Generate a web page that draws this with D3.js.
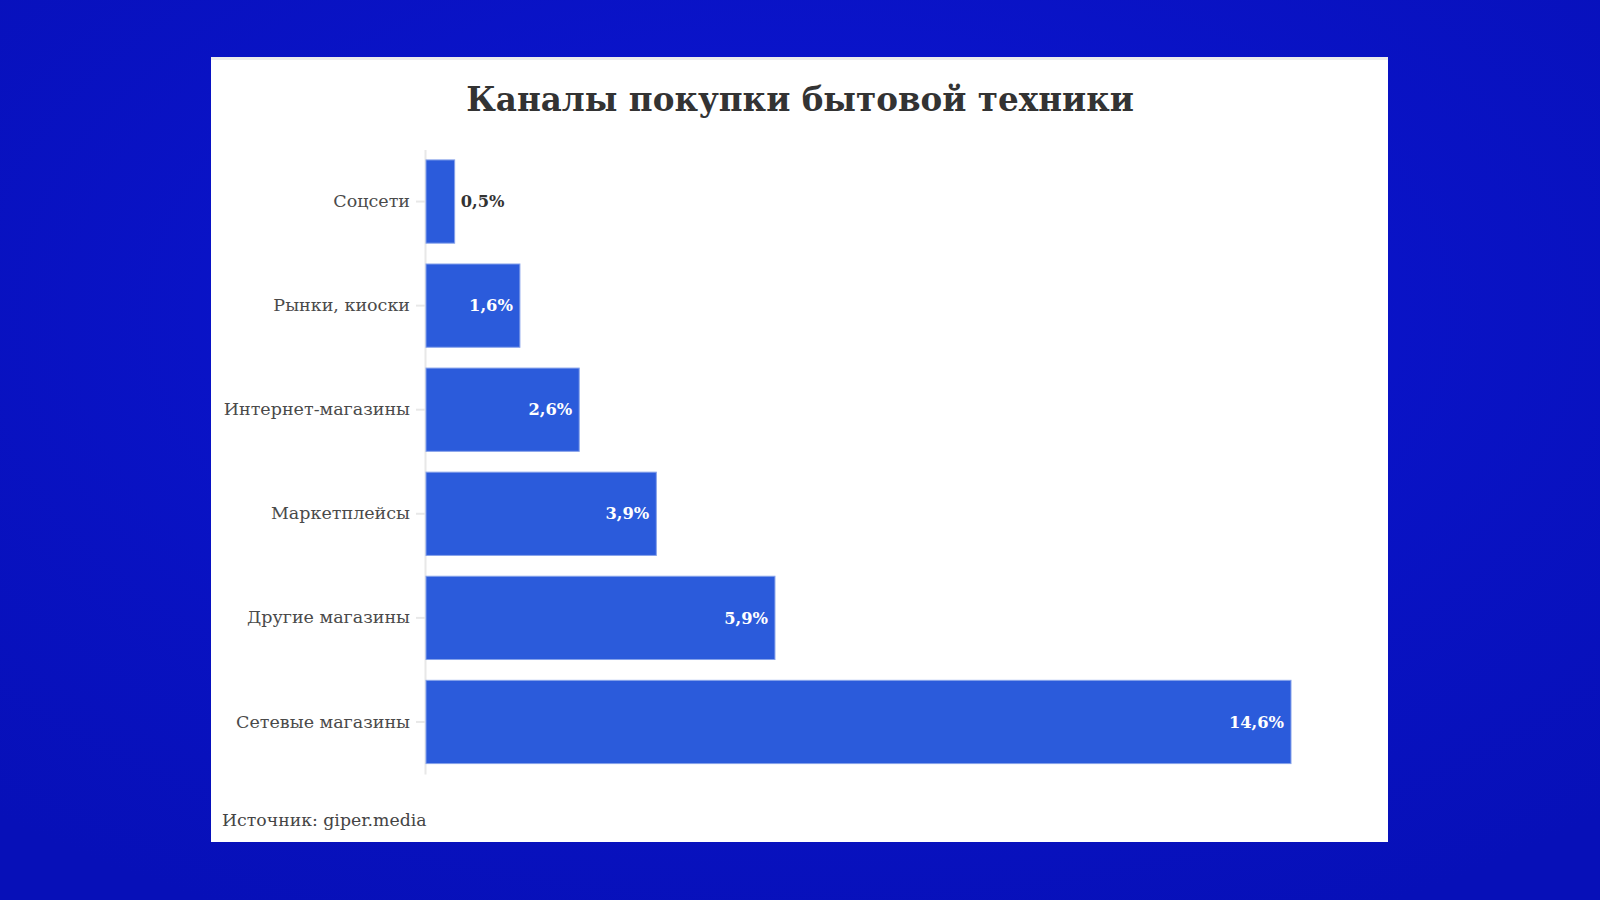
<!DOCTYPE html>
<html>
<head>
<meta charset="utf-8">
<script src="https://cdn.jsdelivr.net/npm/d3@7"></script>
<style>
    html, body { margin: 0; padding: 0; background: #0a13c9; }
    svg { display: block; }
    .axis path, .axis line { stroke: #e8e8e8; }
    .axis text { font-family: "DejaVu Serif", serif; font-size: 17.5px; fill: #4a4a4a; }
    .value { font-family: "DejaVu Serif", serif; font-weight: bold; font-size: 16.3px; }
</style>
</head>
<body>
<svg id="chart" width="1600" height="900"></svg>
<script>
    // data
    let channels = ["Соцсети", "Рынки, киоски", "Интернет-магазины", "Маркетплейсы", "Другие магазины", "Сетевые магазины"];
    let shares = [0.5, 1.6, 2.6, 3.9, 5.9, 14.6];
    let title = "Каналы покупки бытовой техники";
    let source = "Источник: giper.media";

    let svg = d3.select("#chart");

    // blue backdrop
    let defs = svg.append("defs");
    let grad = defs.append("radialGradient").attr("id", "bg").attr("cx", "50%").attr("cy", "35%").attr("r", "75%");
    grad.append("stop").attr("offset", "0%").attr("stop-color", "#0c16d4");
    grad.append("stop").attr("offset", "100%").attr("stop-color", "#0710b8");
    svg.append("rect").attr("width", 1600).attr("height", 900).attr("fill", "url(#bg)");

    // white card
    let card = { x: 211, y: 57, w: 1177, h: 785 };
    svg.append("rect")
        .attr("x", card.x).attr("y", card.y)
        .attr("width", card.w).attr("height", card.h)
        .attr("fill", "#ffffff");
    svg.append("rect")
        .attr("x", card.x).attr("y", card.y)
        .attr("width", card.w).attr("height", 3)
        .attr("fill", "#ececec");

    let xScale = d3.scaleLinear().domain([0, 14.6]).range([425, 1291]);
    let yScale = d3.scaleBand().domain(channels).range([149.5, 774]).paddingInner(0.2).paddingOuter(0.1);

    // Y axis
    let yAxis = svg.append("g").attr("class", "axis")
        .attr("transform", `translate(${xScale(0)},0)`)
        .call(d3.axisLeft(yScale).tickSize(9).tickPadding(6).tickSizeOuter(0));
    yAxis.select(".domain").attr("stroke-width", 2);
    yAxis.selectAll(".tick line").attr("stroke-width", 2);

    // bars
    svg.selectAll(".bar")
        .data(shares)
        .enter()
        .append("rect")
        .attr("class", "bar")
        .attr("x", xScale(0) + 1)
        .attr("y", (d, i) => yScale(channels[i]))
        .attr("width", d => xScale(d) - xScale(0) - 1)
        .attr("height", yScale.bandwidth())
        .attr("fill", "#2b5bdb")
        .attr("stroke", "#86a2ea")
        .attr("stroke-width", 1);

    // value labels: inside when the bar is wide enough
    svg.selectAll(".value")
        .data(shares)
        .enter()
        .append("text")
        .attr("class", "value")
        .attr("x", d => d < 1 ? xScale(d) + 6 : xScale(d) - 7)
        .attr("y", (d, i) => yScale(channels[i]) + yScale.bandwidth() / 2)
        .attr("dy", "0.35em")
        .attr("text-anchor", d => d < 1 ? "start" : "end")
        .attr("fill", d => d < 1 ? "#333333" : "#ffffff")
        .text(d => String(d).replace(".", ",") + "%");

    // Title
    svg.append("text")
        .attr("x", 800)
        .attr("y", 111)
        .attr("text-anchor", "middle")
        .style("font-family", "'DejaVu Serif', serif")
        .style("font-weight", "bold")
        .style("font-size", "32.6px")
        .style("fill", "#333333")
        .text(title);

    // Source
    svg.append("text")
        .attr("x", 222)
        .attr("y", 826)
        .style("font-family", "'DejaVu Serif', serif")
        .style("font-size", "17.3px")
        .style("fill", "#444444")
        .text(source);
</script>
</body>
</html>
